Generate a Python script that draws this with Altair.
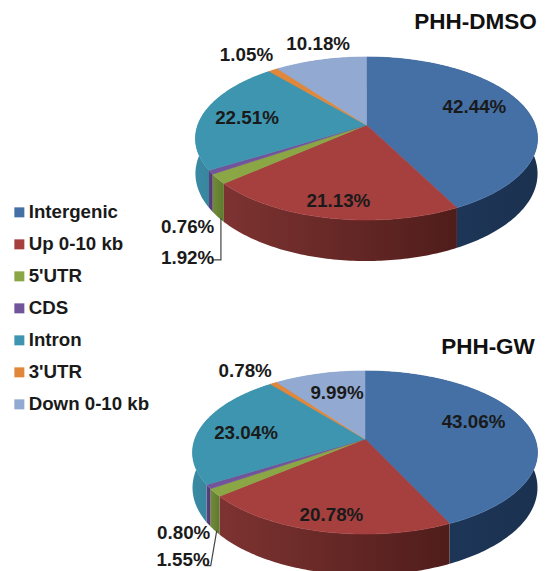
import math
import altair as alt
import pandas as pd

CATEGORIES = ["Intergenic", "Up 0-10 kb", "5'UTR", "CDS", "Intron", "3'UTR", "Down 0-10 kb"]
DMSO_VALUES = [42.44, 21.13, 1.92, 0.76, 22.51, 1.05, 10.18]
GW_VALUES = [43.06, 20.78, 1.55, 0.80, 23.04, 0.78, 9.99]
TOP_COLORS = ["#4470A6", "#A5403F", "#8AA645", "#72549B", "#3E95AF", "#E0873A", "#92A9D1"]
WALL_LEFT = ["#1F3A5E", "#7D3331", "#708B37", "#5C4181", "#3A8AA3", "#B86E2E", "#7A8FB5"]
WALL_RIGHT = ["#1B3150", "#4F1D1B", "#5F7A2E", "#503770", "#2F7489", "#A5622A", "#6E82A6"]

# layout: pie geometry, title position, and label nudges in pixels from each slice's anchor
B, K, H0 = 79.3, 0.1656, 34.2
LABEL_F = 0.65
PIES = [
    dict(name="PHH-DMSO", values=DMSO_VALUES, a=168.7, cx=366.5, cy=125.0, title=(475.5, 22),
         nudge=[(4, -6), (-5, 19), (-86, 99), (-81, 72), (-13, 1), (-57, -33), (-17, -37)],
         leader=(3, 1, 42, -8)),
    dict(name="PHH-GW", values=GW_VALUES, a=170.1, cx=365.0, cy=439.0, title=(488, 347),
         nudge=[(3, -6), (-7, 20), (-88, 88), (-83, 64), (-12, 3), (-58, -30), (3, -2)],
         leader=(2, 0, 35, -6)),
]
MARGIN = 8


def tx(x):
    return x - MARGIN


def ty(y):
    return y - MARGIN


def screen(pie, theta, f=1.0):
    u, v = f * math.sin(theta), f * math.cos(theta)
    w = 1 + K * v
    return pie["cx"] + pie["a"] * u / w, pie["cy"] - B * v / w


def wall_shift(theta):
    return H0 / (1 + K * math.cos(theta))


def arc_angles(a0, a1):
    n = max(4, int((a1 - a0) * 60))
    return [a0 + (a1 - a0) * i / n for i in range(n + 1)]


def feature(ring, label):
    return {"type": "Feature", "properties": {"label": label},
            "geometry": {"type": "Polygon", "coordinates": [[[tx(p[0]), ty(p[1])] for p in ring]]}}


tops = []
walls = {c: [] for c in CATEGORIES}
labels = []
leaders = []
for pie in PIES:
    cum = 0.0
    total = sum(pie["values"])
    for i, (cat, val) in enumerate(zip(CATEGORIES, pie["values"])):
        a0 = 2 * math.pi * cum / total
        a1 = 2 * math.pi * (cum + val) / total
        cum += val
        angles = arc_angles(a0, a1)
        arc = [list(screen(pie, t)) for t in angles]
        apex = [pie["cx"], pie["cy"]]
        tops.append(feature([apex] + arc + [apex], cat))
        low = [[p[0], p[1] + wall_shift(t)] for p, t in zip(arc, angles)]
        walls[cat].append(feature(arc + low[::-1] + [arc[0]], cat))
        mid = (a0 + a1) / 2
        lx, ly = screen(pie, mid, LABEL_F)
        dx, dy = pie["nudge"][i]
        labels.append({"lon": tx(lx + dx), "lat": ty(ly + dy), "text": f"{val:.2f}%"})
        if cat == "5'UTR":
            px, py = screen(pie, mid)
            ddx, ddy, drop, tail = pie["leader"]
            sx, sy = px + ddx, py + wall_shift(mid) + ddy
            ex = sx - (0 if pie["name"] == "PHH-DMSO" else 6)
            pts = [[sx, sy], [ex, sy + drop], [ex + tail, sy + drop]]
            leaders.append({"type": "Feature", "properties": {},
                            "geometry": {"type": "LineString",
                                         "coordinates": [[tx(p[0]), ty(p[1])] for p in pts]}})

titles = pd.DataFrame([{"lon": tx(p["title"][0]), "lat": ty(p["title"][1]), "text": p["name"]} for p in PIES])
labels = pd.DataFrame(labels)

FONT = "Liberation Sans"
color_scale = alt.Scale(domain=CATEGORIES, range=TOP_COLORS)

wall_layers = []
for i, cat in enumerate(CATEGORIES):
    grad = alt.LinearGradient(gradient="linear", x1=0, x2=1, y1=0, y2=0,
                              stops=[alt.GradientStop(offset=0, color=WALL_LEFT[i]),
                                     alt.GradientStop(offset=1, color=WALL_RIGHT[i])])
    wall_layers.append(alt.Chart(alt.Data(values=walls[cat])).mark_geoshape(fill=grad, stroke=None))

top_layer = alt.Chart(alt.Data(values=tops)).mark_geoshape(strokeWidth=0.6).encode(
    color=alt.Color("properties.label:N", scale=color_scale, sort=CATEGORIES, legend=alt.Legend(
        orient="none", legendX=2, legendY=195, title=None, symbolType="square", symbolSize=100,
        symbolStrokeWidth=0, labelFont=FONT, labelFontSize=18.7, labelFontWeight="bold",
        labelColor="#1a1a1a", labelOffset=0, rowPadding=12, labelLimit=200)),
    stroke=alt.Color("properties.label:N", scale=color_scale, legend=None),
)

leader_layer = alt.Chart(alt.Data(values=leaders)).mark_geoshape(
    filled=False, stroke="#444444", strokeWidth=1.2)

label_layer = alt.Chart(labels).mark_text(
    font=FONT, fontWeight="bold", fontSize=18.8, color="#1a1a1a", baseline="middle", align="center"
).encode(longitude="lon:Q", latitude="lat:Q", text="text:N")

title_layer = alt.Chart(titles).mark_text(
    font=FONT, fontWeight="bold", fontSize=22.5, color="#111111", baseline="middle", align="center"
).encode(longitude="lon:Q", latitude="lat:Q", text="text:N")

chart = alt.layer(*wall_layers, top_layer, leader_layer, label_layer, title_layer).project(
    type="identity", scale=1, translate=[0, 0]
).properties(
    width=530, height=563, padding=0, autosize=alt.AutoSizeParams(type="none"), background="white"
).configure_view(stroke=None)

chart.save("out.html", embed_options={"renderer": "svg", "actions": False})
